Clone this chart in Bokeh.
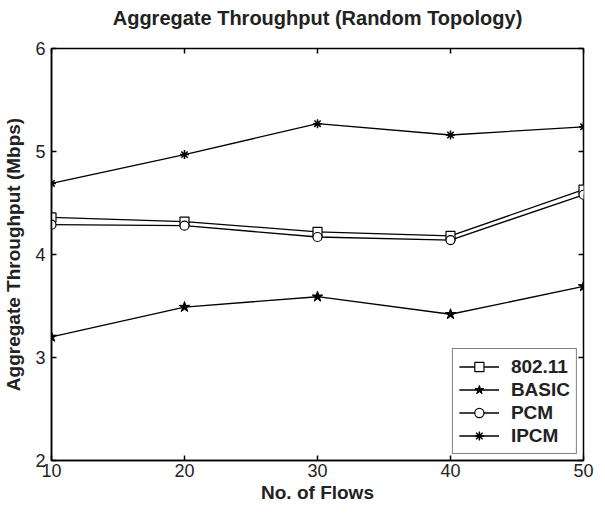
from bokeh.plotting import figure
from bokeh.models import LinearAxis, FixedTicker, Range1d, Legend, LegendItem, CustomLabelingPolicy
from bokeh.embed import file_html
from bokeh.resources import INLINE

flows = [10, 20, 30, 40, 50]
s_80211 = [4.36, 4.32, 4.22, 4.18, 4.63]
s_basic = [3.20, 3.49, 3.59, 3.42, 3.69]
s_pcm = [4.29, 4.28, 4.17, 4.14, 4.58]
s_ipcm = [4.69, 4.97, 5.27, 5.16, 5.24]
x_ticks = [10, 20, 30, 40, 50]
y_ticks = [2, 3, 4, 5, 6]

FONT = "Liberation Sans"

p = figure(width=597, height=505, output_backend="svg", toolbar_location=None,
           x_range=Range1d(10, 50), y_range=Range1d(2, 6),
           min_border_left=50, min_border_right=6, min_border_top=42, min_border_bottom=38)

p.title.text = "Aggregate Throughput (Random Topology)"
p.title.align = "center"
p.title.text_font = FONT
p.title.text_font_size = "20px"
p.title.text_font_style = "bold"
p.title.text_color = "#222222"
p.title.offset = 0
p.title.standoff = 8

p.grid.visible = False
p.outline_line_color = "black"
p.outline_line_width = 1.5

for ax in [p.xaxis[0], p.yaxis[0]]:
    ax.major_label_text_font = FONT
    ax.major_label_text_font_size = "18px"
    ax.major_label_text_color = "#222222"
    ax.axis_label_text_font = FONT
    ax.axis_label_text_font_size = "19px"
    ax.axis_label_text_font_style = "bold"
    ax.axis_label_text_color = "#222222"
    ax.axis_line_color = "black"
    ax.axis_line_width = 1.5
    ax.major_tick_in = 5
    ax.major_tick_out = 0
    ax.minor_tick_line_color = None
    ax.major_tick_line_color = "black"
    ax.major_tick_line_width = 1.5

p.xaxis[0].ticker = FixedTicker(ticks=x_ticks)
p.yaxis[0].ticker = FixedTicker(ticks=y_ticks)
p.xaxis[0].axis_label = "No. of Flows"
p.yaxis[0].axis_label = "Aggregate Throughput (Mbps)"
p.xaxis[0].major_label_standoff = 3
p.yaxis[0].major_label_standoff = 6
p.xaxis[0].axis_label_standoff = 2
p.yaxis[0].axis_label_standoff = 8

hide = "for (const i of indices) { indices.unset(i) } return indices"
top = LinearAxis(ticker=FixedTicker(ticks=x_ticks),
                 major_label_policy=CustomLabelingPolicy(code=hide),
                 major_tick_in=5, major_tick_out=0, minor_tick_line_color=None,
                 axis_line_color=None, major_tick_line_width=1.5)
right = LinearAxis(ticker=FixedTicker(ticks=y_ticks),
                   major_label_policy=CustomLabelingPolicy(code=hide),
                   major_tick_in=5, major_tick_out=0, minor_tick_line_color=None,
                   axis_line_color=None, major_tick_line_width=1.5)
p.add_layout(top, "above")
p.add_layout(right, "right")

items = []
l1 = p.line(flows, s_80211, line_color="black", line_width=1.3)
m1 = p.scatter(flows, s_80211, marker="square", size=9, fill_color="white", line_color="black", line_width=1.2)
items.append(LegendItem(label="802.11", renderers=[l1, m1]))
l2 = p.line(flows, s_basic, line_color="black", line_width=1.3)
m2 = p.scatter(flows, s_basic, marker="star", size=11, fill_color="black", line_color="black", line_width=1)
items.append(LegendItem(label="BASIC", renderers=[l2, m2]))
l3 = p.line(flows, s_pcm, line_color="black", line_width=1.3)
m3 = p.scatter(flows, s_pcm, marker="circle", size=9, fill_color="white", line_color="black", line_width=1.2)
items.append(LegendItem(label="PCM", renderers=[l3, m3]))
l4 = p.line(flows, s_ipcm, line_color="black", line_width=1.3)
m4 = p.scatter(flows, s_ipcm, marker="asterisk", size=9, line_color="black", line_width=1.5)
items.append(LegendItem(label="IPCM", renderers=[l4, m4]))

legend = Legend(items=items, location="bottom_right")
legend.label_text_font = FONT
legend.label_text_font_size = "19px"
legend.label_text_font_style = "bold"
legend.label_text_color = "#222222"
legend.border_line_color = "black"
legend.border_line_width = 1
legend.margin = 6
legend.padding = 6
legend.spacing = 0
legend.glyph_width = 40
legend.glyph_height = 23
legend.label_height = 23
legend.label_standoff = 12
legend.background_fill_alpha = 1
p.add_layout(legend, "center")

open("out.html", "w").write(file_html(p, INLINE))
